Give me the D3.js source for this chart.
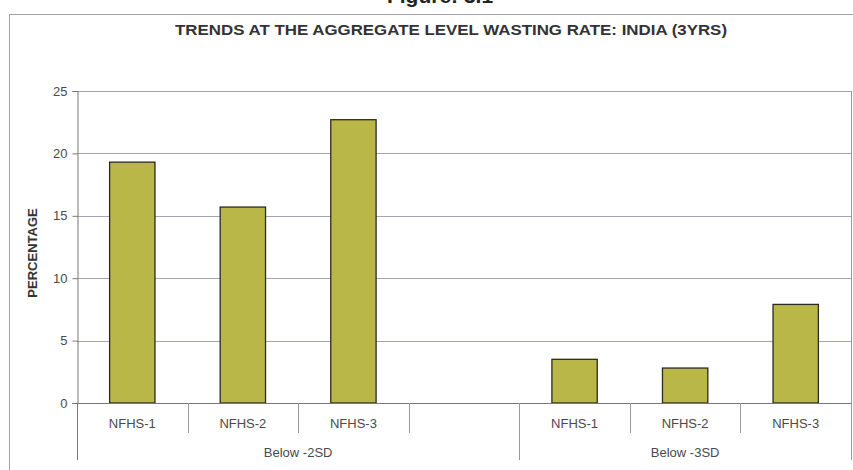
<!DOCTYPE html>
<html>
<head>
<meta charset="utf-8">
<script src="https://cdn.jsdelivr.net/npm/d3@7"></script>
<style>
  html, body { margin: 0; padding: 0; background: #fff; }
  svg { display: block; }
  text { font-family: "Liberation Sans", Arial, sans-serif; }
</style>
</head>
<body>
<svg id="chart" width="853" height="470"></svg>
<script>
// Wasting rate (% of children) by survey round, two severity thresholds
const groups = ["Below -2SD", "Below -3SD"];
const rounds = ["NFHS-1", "NFHS-2", "NFHS-3"];
const categories = ["NFHS-1", "NFHS-2", "NFHS-3", "", "NFHS-1", "NFHS-2", "NFHS-3"];
const categoryGroup = [0, 0, 0, 0, 1, 1, 1];
const values = [19.3, 15.7, 22.7, null, 3.5, 2.8, 7.9];
const yTicks = [0, 5, 10, 15, 20, 25];

const svg = d3.select("#chart");
const W = 853, H = 470;
const plot = { left: 77, right: 851, top: 91, bottom: 403 };

// Outer frame and the caption above it
svg.append("text")
  .attr("x", 440).attr("y", 3)
  .attr("text-anchor", "middle")
  .attr("font-size", 21).attr("font-weight", "bold")
  .attr("fill", "#222")
  .text("Figure: 3.1");

svg.append("rect")
  .attr("x", 9.5).attr("y", 14.5)
  .attr("width", W).attr("height", H)
  .attr("fill", "#fff").attr("stroke", "#a0a0a8").attr("stroke-width", 1);

svg.append("text")
  .attr("x", 451).attr("y", 35)
  .attr("text-anchor", "middle")
  .attr("font-size", 15.5).attr("font-weight", "bold")
  .attr("textLength", 552).attr("lengthAdjust", "spacingAndGlyphs")
  .attr("fill", "#333")
  .text("TRENDS AT THE AGGREGATE LEVEL WASTING RATE: INDIA (3YRS)");

const x = d3.scaleBand()
  .domain(d3.range(categories.length))
  .range([plot.left, plot.right])
  .padding(0);

const y = d3.scaleLinear()
  .domain([0, 25])
  .range([plot.bottom, plot.top]);

// Horizontal gridlines
svg.append("g")
  .selectAll("line")
  .data(yTicks.filter(d => d > 0))
  .join("line")
  .attr("x1", plot.left).attr("x2", plot.right)
  .attr("y1", d => Math.round(y(d)) + 0.5).attr("y2", d => Math.round(y(d)) + 0.5)
  .attr("stroke", "#a4a4b4").attr("stroke-width", 1);

// Y axis
const yAxis = svg.append("g")
  .attr("transform", `translate(${plot.left + 0.5},0)`)
  .call(d3.axisLeft(y).tickValues(yTicks).tickSize(5).tickPadding(5));
yAxis.select(".domain").attr("stroke", "#777");
yAxis.selectAll(".tick line").attr("stroke", "#777");
yAxis.selectAll(".tick text")
  .attr("font-family", "Liberation Sans, Arial, sans-serif")
  .attr("font-size", 13).attr("fill", "#4a4a4a");

// Axis line continues down through the category label rows
svg.append("line")
  .attr("x1", plot.left + 0.5).attr("x2", plot.left + 0.5)
  .attr("y1", plot.bottom).attr("y2", 460)
  .attr("stroke", "#777");

// Right edge of the plot area
svg.append("line")
  .attr("x1", plot.right + 0.5).attr("x2", plot.right + 0.5)
  .attr("y1", plot.top).attr("y2", 460)
  .attr("stroke", "#999");

// Bars
const barW = x.bandwidth() * 0.41;
svg.append("g")
  .selectAll("rect")
  .data(values.map((v, i) => ({ v, i })).filter(d => d.v !== null))
  .join("rect")
  .attr("x", d => x(d.i) + (x.bandwidth() - barW) / 2)
  .attr("y", d => y(d.v))
  .attr("width", barW)
  .attr("height", d => y(0) - y(d.v))
  .attr("fill", "#b9b747")
  .attr("stroke", "#2a2a20").attr("stroke-width", 1.3);

// Baseline
svg.append("line")
  .attr("x1", plot.left - 5).attr("x2", plot.right)
  .attr("y1", plot.bottom + 0.5).attr("y2", plot.bottom + 0.5)
  .attr("stroke", "#777");

// Category separators: short within a group, long at group boundaries
const boundaries = d3.range(1, categories.length);
svg.append("g")
  .selectAll("line")
  .data(boundaries)
  .join("line")
  .attr("x1", i => Math.round(x(i)) + 0.5).attr("x2", i => Math.round(x(i)) + 0.5)
  .attr("y1", plot.bottom)
  .attr("y2", i => categoryGroup[i] !== categoryGroup[i - 1] ? 460 : 433)
  .attr("stroke", "#999");

// Category labels
svg.append("g")
  .selectAll("text")
  .data(categories)
  .join("text")
  .attr("x", (d, i) => x(i) + x.bandwidth() / 2)
  .attr("y", 428)
  .attr("text-anchor", "middle")
  .attr("font-size", 13).attr("fill", "#4a4a4a")
  .text(d => d);

// Group labels centred under their categories
svg.append("g")
  .selectAll("text")
  .data(groups)
  .join("text")
  .attr("x", (g, gi) => {
    const idx = d3.range(categories.length).filter(i => categoryGroup[i] === gi);
    return (x(idx[0]) + x(idx[idx.length - 1]) + x.bandwidth()) / 2;
  })
  .attr("y", 457)
  .attr("text-anchor", "middle")
  .attr("font-size", 13).attr("fill", "#4a4a4a")
  .text(g => g);

// Y axis title
svg.append("text")
  .attr("transform", "translate(37,253) rotate(-90)")
  .attr("text-anchor", "middle")
  .attr("font-size", 13).attr("font-weight", "bold")
  .attr("fill", "#333")
  .text("PERCENTAGE");
</script>
</body>
</html>
